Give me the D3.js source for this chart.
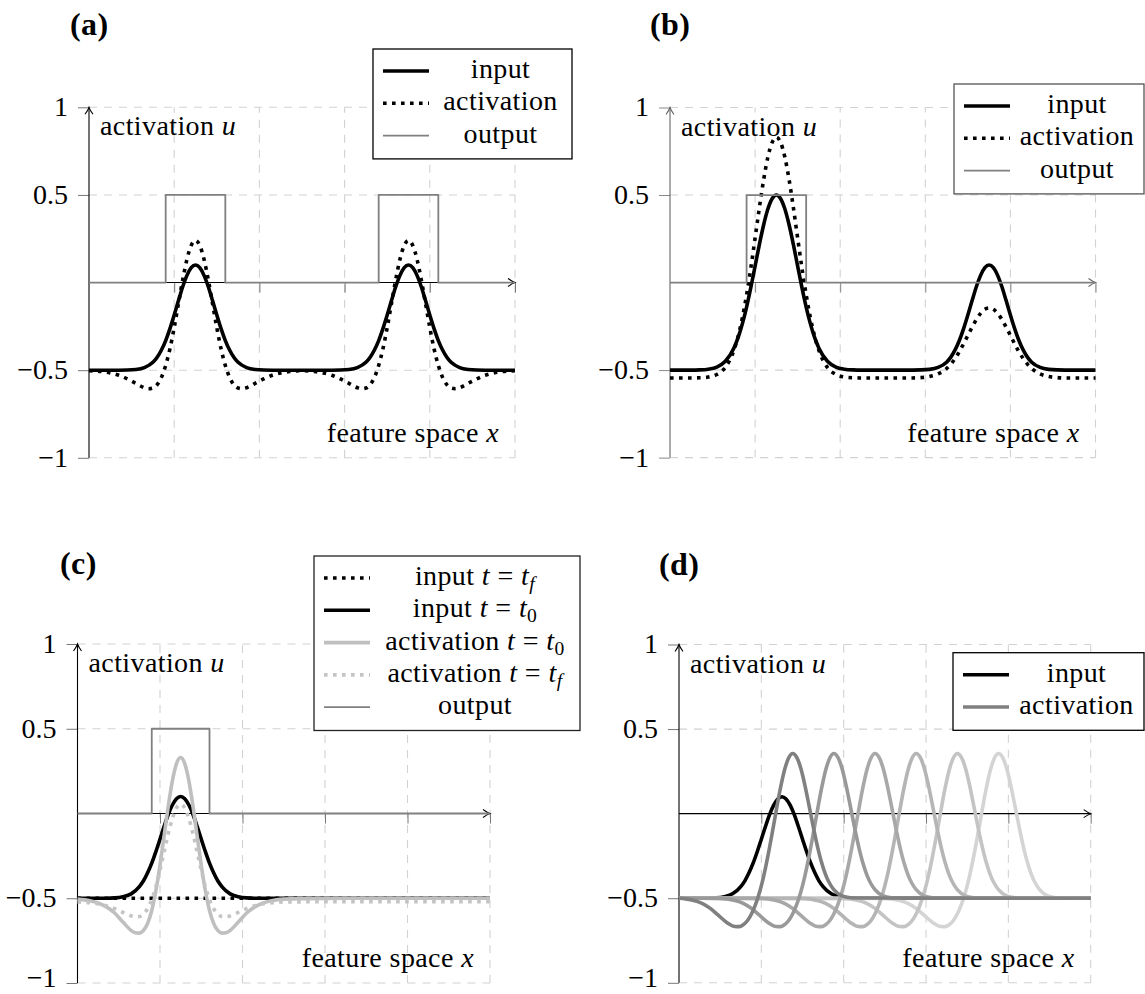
<!DOCTYPE html>
<html>
<head>
<meta charset="utf-8">
<script src="https://cdn.jsdelivr.net/npm/d3@7"></script>
<style>
  body { margin: 0; background: #fff; }
  text { font-family: "Liberation Serif", "DejaVu Serif", serif; }
</style>
</head>
<body>
<svg id="fig" width="1145" height="994"></svg>
<script>
// ---- values ----
var yTicks = [-1, -0.5, 0.5, 1];
var yTickLabels = ["\u22121", "\u22120.5", "0.5", "1"];
var xGrid = [1, 2, 3, 4, 5];

// bump shapes: [offset from bump centre, u]
var inputNarrow = [[-1,-0.5],[-0.8,-0.499],[-0.7,-0.496],[-0.6,-0.485],[-0.5,-0.455],[-0.45,-0.426],[-0.4,-0.385],[-0.35,-0.331],[-0.3,-0.263],[-0.25,-0.185],[-0.2,-0.103],[-0.15,-0.024],[-0.1,0.041],[-0.05,0.085],[0,0.1],[0.05,0.085],[0.1,0.041],[0.15,-0.024],[0.2,-0.103],[0.25,-0.185],[0.3,-0.263],[0.35,-0.331],[0.4,-0.385],[0.45,-0.426],[0.5,-0.455],[0.6,-0.485],[0.7,-0.496],[0.8,-0.499],[1,-0.5]];
var inputWide = [[-1,-0.5],[-0.9,-0.5],[-0.8,-0.498],[-0.7,-0.491],[-0.6,-0.474],[-0.5,-0.431],[-0.45,-0.397],[-0.4,-0.35],[-0.35,-0.293],[-0.3,-0.225],[-0.25,-0.151],[-0.2,-0.076],[-0.15,-0.006],[-0.1,0.05],[-0.05,0.087],[0,0.1],[0.05,0.087],[0.1,0.05],[0.15,-0.006],[0.2,-0.076],[0.25,-0.151],[0.3,-0.225],[0.35,-0.293],[0.4,-0.35],[0.45,-0.397],[0.5,-0.431],[0.6,-0.474],[0.7,-0.491],[0.8,-0.498],[0.9,-0.5],[1,-0.5]];
var actA = [[-1.25,-0.503],[-1.1,-0.508],[-1,-0.516],[-0.9,-0.529],[-0.8,-0.55],[-0.7,-0.575],[-0.6,-0.6],[-0.55,-0.606],[-0.5,-0.602],[-0.45,-0.583],[-0.4,-0.541],[-0.35,-0.473],[-0.3,-0.378],[-0.25,-0.257],[-0.2,-0.12],[-0.15,0.016],[-0.1,0.133],[-0.05,0.212],[0,0.24],[0.05,0.212],[0.1,0.133],[0.15,0.016],[0.2,-0.12],[0.25,-0.257],[0.3,-0.378],[0.35,-0.473],[0.4,-0.541],[0.45,-0.583],[0.5,-0.602],[0.55,-0.606],[0.6,-0.6],[0.7,-0.575],[0.8,-0.55],[0.9,-0.529],[1,-0.516],[1.1,-0.508],[1.25,-0.503]];
var inputB1 = [[-1,-0.5],[-0.9,-0.499],[-0.8,-0.495],[-0.7,-0.483],[-0.6,-0.45],[-0.5,-0.375],[-0.45,-0.315],[-0.4,-0.236],[-0.35,-0.14],[-0.3,-0.028],[-0.25,0.094],[-0.2,0.217],[-0.15,0.329],[-0.1,0.42],[-0.05,0.479],[0,0.5],[0.05,0.479],[0.1,0.42],[0.15,0.329],[0.2,0.217],[0.25,0.094],[0.3,-0.028],[0.35,-0.14],[0.4,-0.236],[0.45,-0.315],[0.5,-0.375],[0.6,-0.45],[0.7,-0.483],[0.8,-0.495],[0.9,-0.499],[1,-0.5]];
var actB1 = [[-1,-0.545],[-0.9,-0.544],[-0.8,-0.54],[-0.7,-0.525],[-0.6,-0.485],[-0.5,-0.388],[-0.45,-0.308],[-0.4,-0.202],[-0.35,-0.07],[-0.3,0.084],[-0.25,0.254],[-0.2,0.427],[-0.15,0.586],[-0.1,0.716],[-0.05,0.8],[0,0.83],[0.05,0.8],[0.1,0.716],[0.15,0.586],[0.2,0.427],[0.25,0.254],[0.3,0.084],[0.35,-0.07],[0.4,-0.202],[0.45,-0.308],[0.5,-0.388],[0.6,-0.485],[0.7,-0.525],[0.8,-0.54],[0.9,-0.544],[1,-0.545]];
var actB2 = [[-1,-0.545],[-0.9,-0.545],[-0.8,-0.543],[-0.7,-0.537],[-0.6,-0.522],[-0.5,-0.491],[-0.45,-0.466],[-0.4,-0.434],[-0.35,-0.395],[-0.3,-0.35],[-0.25,-0.302],[-0.2,-0.255],[-0.15,-0.211],[-0.1,-0.176],[-0.05,-0.153],[0,-0.145],[0.05,-0.153],[0.1,-0.176],[0.15,-0.211],[0.2,-0.255],[0.25,-0.302],[0.3,-0.35],[0.35,-0.395],[0.4,-0.434],[0.45,-0.466],[0.5,-0.491],[0.6,-0.522],[0.7,-0.537],[0.8,-0.543],[0.9,-0.545],[1,-0.545]];
var actC0 = [[-1.25,-0.505],[-1.1,-0.515],[-1,-0.528],[-0.9,-0.551],[-0.8,-0.587],[-0.7,-0.64],[-0.6,-0.69],[-0.55,-0.704],[-0.5,-0.706],[-0.45,-0.69],[-0.4,-0.648],[-0.35,-0.572],[-0.3,-0.456],[-0.25,-0.305],[-0.2,-0.132],[-0.15,0.042],[-0.1,0.192],[-0.05,0.294],[0,0.33],[0.05,0.294],[0.1,0.192],[0.15,0.042],[0.2,-0.132],[0.25,-0.305],[0.3,-0.456],[0.35,-0.572],[0.4,-0.648],[0.45,-0.69],[0.5,-0.706],[0.55,-0.704],[0.6,-0.69],[0.7,-0.64],[0.8,-0.587],[0.9,-0.551],[1,-0.528],[1.1,-0.515],[1.25,-0.505],[1.5,-0.502],[2,-0.5]];
var actCf = [[-1.25,-0.522],[-1.1,-0.527],[-1,-0.533],[-0.9,-0.544],[-0.8,-0.561],[-0.7,-0.583],[-0.6,-0.604],[-0.55,-0.61],[-0.5,-0.608],[-0.45,-0.593],[-0.4,-0.561],[-0.35,-0.508],[-0.3,-0.432],[-0.25,-0.335],[-0.2,-0.227],[-0.15,-0.119],[-0.1,-0.03],[-0.05,0.033],[0,0.055],[0.05,0.033],[0.1,-0.03],[0.15,-0.119],[0.2,-0.227],[0.25,-0.335],[0.3,-0.432],[0.35,-0.508],[0.4,-0.561],[0.45,-0.593],[0.5,-0.608],[0.55,-0.61],[0.6,-0.604],[0.7,-0.583],[0.8,-0.561],[0.9,-0.544],[1,-0.533],[1.1,-0.527],[1.25,-0.522],[1.5,-0.521],[2,-0.52]];
var actD = [[-1.4,-0.501],[-1.3,-0.504],[-1.2,-0.513],[-1.1,-0.53],[-1,-0.56],[-0.9,-0.602],[-0.8,-0.643],[-0.7,-0.667],[-0.65,-0.668],[-0.6,-0.657],[-0.55,-0.633],[-0.5,-0.593],[-0.45,-0.537],[-0.4,-0.462],[-0.35,-0.366],[-0.3,-0.25],[-0.25,-0.12],[-0.2,0.016],[-0.15,0.146],[-0.1,0.255],[-0.05,0.328],[0,0.356],[0.05,0.333],[0.1,0.267],[0.15,0.166],[0.2,0.046],[0.25,-0.077],[0.3,-0.19],[0.35,-0.286],[0.4,-0.36],[0.45,-0.413],[0.5,-0.449],[0.6,-0.486],[0.7,-0.497],[0.8,-0.499]];

var centersTwo = [1.25, 3.75];
var centerOne = 1.25;
var centersD = [1.38, 1.88, 2.38, 2.88, 3.38, 3.88];
var shadesD = ["#808080", "#999999", "#a8a8a8", "#b5b5b5", "#c4c4c4", "#d4d4d4"];

var outputA = [[0,0],[0.9,0],[0.9,0.5],[1.6,0.5],[1.6,0],[3.4,0],[3.4,0.5],[4.1,0.5],[4.1,0],[5,0]];
var outputB = [[0,0],[0.9,0],[0.9,0.5],[1.6,0.5],[1.6,0],[5,0]];
var outputC = [[0,0],[0.9,0],[0.9,0.5],[1.6,0.5],[1.6,0],[5,0]];
var inputCf = [[0,-0.5],[5,-0.5]];

// place bump shapes at their centres along x in [0,5]
function build(parts, base) {
  var pts = [];
  parts.forEach(function(p) {
    p[1].forEach(function(q) {
      var xv = Math.round((p[0] + q[0]) * 1000) / 1000;
      if (xv < 0 || xv > 5) return;
      if (pts.length && xv <= pts[pts.length - 1][0]) return;
      pts.push([xv, q[1]]);
    });
  });
  if (pts[0][0] > 0) pts.unshift([0, base]);
  if (pts[pts.length - 1][0] < 5) pts.push([5, base]);
  return pts;
}

var FONT = "'Liberation Serif', 'DejaVu Serif', serif";
var DOT = "3.6,5.4";
var TH = 3.6;

var panels = [
  { tag: "(a)", tagX: 70, tagY: 35, x0: 89, x1: 515, yTop: 107.3, yBot: 457.8, axis: "#000", tick: "#777",
    legend: { x: 373, y: 49, w: 199, border: "#000" },
    series: [
      { label: [["input"]], pts: build([[centersTwo[0], inputNarrow], [centersTwo[1], inputNarrow]], -0.5), color: "#000", width: TH },
      { label: [["activation"]], pts: build([[centersTwo[0], actA], [centersTwo[1], actA]], -0.5), color: "#000", width: TH, dash: DOT },
      { label: [["output"]], pts: outputA, color: "#808080", width: 1.8, linear: true }
    ] },
  { tag: "(b)", tagX: 650, tagY: 35, x0: 670, x1: 1095.5, yTop: 107.5, yBot: 457.6, axis: "#666", tick: "#888",
    legend: { x: 954, y: 84, w: 190, border: "#555" },
    series: [
      { label: [["input"]], pts: build([[centersTwo[0], inputB1], [centersTwo[1], inputNarrow]], -0.5), color: "#000", width: TH },
      { label: [["activation"]], pts: build([[centersTwo[0], actB1], [centersTwo[1], actB2]], -0.545), color: "#000", width: TH, dash: DOT },
      { label: [["output"]], pts: outputB, color: "#808080", width: 1.8, linear: true }
    ] },
  { tag: "(c)", tagX: 60, tagY: 574, x0: 77.5, x1: 490, yTop: 644, yBot: 983, axis: "#000", tick: "#777",
    legend: { x: 314, y: 556, w: 266, border: "#222" },
    series: [
      { label: [["input "], ["t", "i"], [" = "], ["t", "i"], ["f", "is"]], pts: inputCf, color: "#000", width: TH, dash: DOT, linear: true },
      { label: [["input "], ["t", "i"], [" = "], ["t", "i"], ["0", "s"]], pts: build([[centerOne, inputWide]], -0.5), color: "#000", width: TH },
      { label: [["activation "], ["t", "i"], [" = "], ["t", "i"], ["0", "s"]], pts: build([[centerOne, actC0]], -0.5), color: "#bfbfbf", width: TH },
      { label: [["activation "], ["t", "i"], [" = "], ["t", "i"], ["f", "is"]], pts: build([[centerOne, actCf]], -0.52), color: "#c4c4c4", width: TH, dash: DOT },
      { label: [["output"]], pts: outputC, color: "#808080", width: 1.8, linear: true }
    ] },
  { tag: "(d)", tagX: 659, tagY: 575, x0: 679, x1: 1090.7, yTop: 644.5, yBot: 982.8, axis: "#000", tick: "#777",
    legend: { x: 953, y: 652.7, w: 191, border: "#000" },
    series: [
      { label: [["input"]], pts: build([[centerOne, inputWide]], -0.5), color: "#000", width: TH }
    ].concat(centersD.slice().reverse().map(function(c, k) {
      var i = centersD.length - 1 - k;
      return { label: i === 0 ? [["activation"]] : null, pts: build([[c, actD]], -0.5), color: shadesD[i], width: TH };
    })) }
];

var svg = d3.select("#fig");

function txt(sel) {
  return sel.append("text").attr("font-family", FONT).attr("font-size", 28).attr("letter-spacing", 0.4);
}

function rich(sel, parts) {
  parts.forEach(function(p) {
    var t = sel.append("tspan").text(p[0]);
    var f = p[1] || "";
    if (f.indexOf("i") >= 0) t.attr("font-style", "italic");
    if (f.indexOf("s") >= 0) t.attr("font-size", "0.7em").attr("dy", 5);
  });
}

panels.forEach(function(p) {
  var g = svg.append("g");
  var x = d3.scaleLinear().domain([0, 5]).range([p.x0, p.x1]);
  var y = d3.scaleLinear().domain([-1, 1]).range([p.yBot, p.yTop]);

  // dashed grid
  g.selectAll(".gy").data(yTicks).join("line")
    .attr("x1", x(0)).attr("x2", x(5))
    .attr("y1", function(d) { return y(d); }).attr("y2", function(d) { return y(d); })
    .attr("stroke", "#d2d2d2").attr("stroke-width", 1.1).attr("stroke-dasharray", "8,7");
  g.selectAll(".gx").data(xGrid).join("line")
    .attr("x1", function(d) { return x(d); }).attr("x2", function(d) { return x(d); })
    .attr("y1", y(-1)).attr("y2", y(1))
    .attr("stroke", "#d2d2d2").attr("stroke-width", 1.1).attr("stroke-dasharray", "8,7");

  // ticks
  var ya = g.append("g").attr("transform", "translate(" + x(0) + ",0)")
    .call(d3.axisLeft(y).tickValues(yTicks).tickSize(11).tickPadding(10)
      .tickFormat(function(d) { return yTickLabels[yTicks.indexOf(d)]; }));
  ya.select(".domain").remove();
  ya.attr("font-family", FONT).attr("font-size", 28);
  ya.selectAll("line").attr("stroke", p.tick).attr("stroke-width", 1);
  ya.selectAll("text").attr("font-family", FONT).attr("font-size", 28).attr("fill", "#000")
    .attr("dy", function(d) { return y(d) > 975 ? "0.12em" : "0.3em"; });

  var xa = g.append("g").attr("transform", "translate(0," + y(0) + ")")
    .call(d3.axisBottom(x).tickValues(xGrid).tickSize(10).tickFormat(""));
  xa.select(".domain").remove();
  xa.selectAll("line").attr("stroke", p.tick).attr("stroke-width", 1);

  // axis lines with arrow tips
  g.append("line").attr("x1", x(0)).attr("x2", x(0)).attr("y1", y(-1)).attr("y2", y(1))
    .attr("stroke", p.axis).attr("stroke-width", 1.1);
  g.append("line").attr("x1", x(0)).attr("x2", x(5)).attr("y1", y(0)).attr("y2", y(0))
    .attr("stroke", p.axis).attr("stroke-width", 1.1);
  var tx = x(5), ty = y(0);
  g.append("path").attr("d", "M" + (tx - 7) + "," + (ty - 4) + "Q" + (tx - 2.5) + "," + (ty - 0.8) + " " + tx + "," + ty +
      "Q" + (tx - 2.5) + "," + (ty + 0.8) + " " + (tx - 7) + "," + (ty + 4))
    .attr("fill", "none").attr("stroke", p.axis).attr("stroke-width", 1.1);
  var ux = x(0), uy = y(1);
  g.append("path").attr("d", "M" + (ux - 4) + "," + (uy + 7) + "Q" + (ux - 0.8) + "," + (uy + 2.5) + " " + ux + "," + uy +
      "Q" + (ux + 0.8) + "," + (uy + 2.5) + " " + (ux + 4) + "," + (uy + 7))
    .attr("fill", "none").attr("stroke", p.axis).attr("stroke-width", 1.1);

  // axis titles and panel tag
  rich(txt(g).attr("x", x(0) + 11).attr("y", y(1) + 28), [["activation "], ["u", "i"]]);
  rich(txt(g).attr("x", x(5) - 16).attr("y", y(-1) - 16).attr("text-anchor", "end"), [["feature space "], ["x", "i"]]);
  txt(svg).attr("x", p.tagX).attr("y", p.tagY).attr("font-size", 32).attr("font-weight", "bold").text(p.tag);

  // curves
  p.series.forEach(function(s) {
    var line = d3.line()
      .x(function(d) { return x(d[0]); })
      .y(function(d) { return y(d[1]); })
      .curve(s.linear ? d3.curveLinear : d3.curveMonotoneX);
    g.append("path").datum(s.pts).attr("d", line)
      .attr("fill", "none").attr("stroke", s.color).attr("stroke-width", s.width)
      .attr("stroke-dasharray", s.dash || null).attr("stroke-linejoin", "round");
  });

  // legend
  var entries = p.series.filter(function(s) { return s.label; });
  var L = p.legend, rowH = 32.3;
  var lh = entries.length * rowH + 13;
  var lg = g.append("g");
  lg.append("rect").attr("x", L.x).attr("y", L.y).attr("width", L.w).attr("height", lh)
    .attr("fill", "#fff").attr("stroke", L.border).attr("stroke-width", 1.3);
  var cx = L.x + 56 + (L.w - 56) / 2;
  entries.forEach(function(s, i) {
    var ry = L.y + 22 + i * rowH;
    lg.append("line").attr("x1", L.x + 10).attr("x2", L.x + 56).attr("y1", ry).attr("y2", ry)
      .attr("stroke", s.color).attr("stroke-width", s.width).attr("stroke-dasharray", s.dash || null);
    rich(txt(lg).attr("x", cx).attr("y", ry + 7).attr("text-anchor", "middle"), s.label);
  });
});
</script>
</body>
</html>
